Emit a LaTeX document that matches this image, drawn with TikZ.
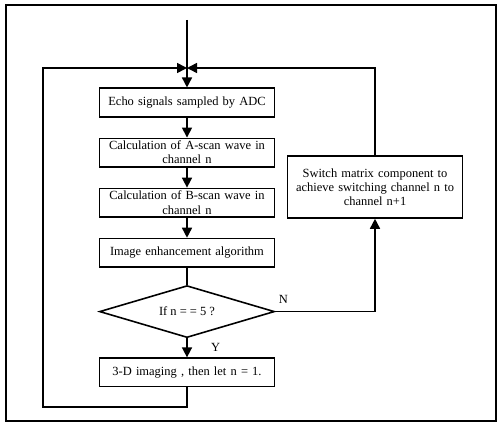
\documentclass[tikz,border=0pt]{standalone}
\usepackage{fontspec}
\setmainfont{Liberation Serif}
\usetikzlibrary{positioning, shapes.geometric, arrows.meta}

\begin{document}
\begin{tikzpicture}[font=\fontsize{7.1}{8}\selectfont, line width=0.9pt,
    >={Triangle[length=2mm, width=2mm]}, node distance=4mm,
    box/.style={rectangle, draw, minimum width=35mm, minimum height=5.7mm,
                text width=33mm, align=center, inner sep=0.5pt}]
  \useasboundingbox (0,0) rectangle (9.94,8.48);
  % Frame
  \draw[line width=0.6pt] (0.12,0.06) rectangle (9.92,8.38);

  % Main column
  \node[box] (echo) at (3.74,6.43) {Echo signals sampled by ADC};
  \node[box, below=of echo] (ascan) {Calculation of A-scan wave in\\channel n};
  \node[box, below=of ascan] (bscan) {Calculation of B-scan wave in\\channel n};
  \node[box, below=of bscan] (enhance) {Image enhancement algorithm};
  \node[diamond, draw, aspect=3.4, minimum width=35mm, minimum height=10.4mm,
        inner sep=0pt, below=3.4mm of enhance] (check) {If n = = 5 ?};
  \node[box, below=3.8mm of check] (imaging) {3-D imaging , then let n = 1.};

  % Switch branch
  \node[box, minimum height=12.4mm] (switch) at (7.5,4.74)
    {Switch matrix component to\\achieve switching channel n to\\channel n+1};

  % Connectors
  \coordinate (start) at (3.74,8.08);
  \coordinate (join) at (3.74,7.12);
  \coordinate (lowleft) at (0.86,0.34);
  \draw (start) -- (join);
  \draw[->] (join) -- (echo);
  \draw[->] (echo) -- (ascan);
  \draw[->] (ascan) -- (bscan);
  \draw[->] (bscan) -- (enhance);
  \draw (enhance) -- (check);
  \draw[->] (check) -- (imaging) node[pos=0.5, right=3.5mm] {Y};
  \draw[->] (check.east) -| (switch.south) node[pos=0.04, above=1pt] {N};
  \draw[->] (switch.north) |- (join);
  \draw[->] (imaging.south) |- (lowleft) |- (join);
\end{tikzpicture}
\end{document}
